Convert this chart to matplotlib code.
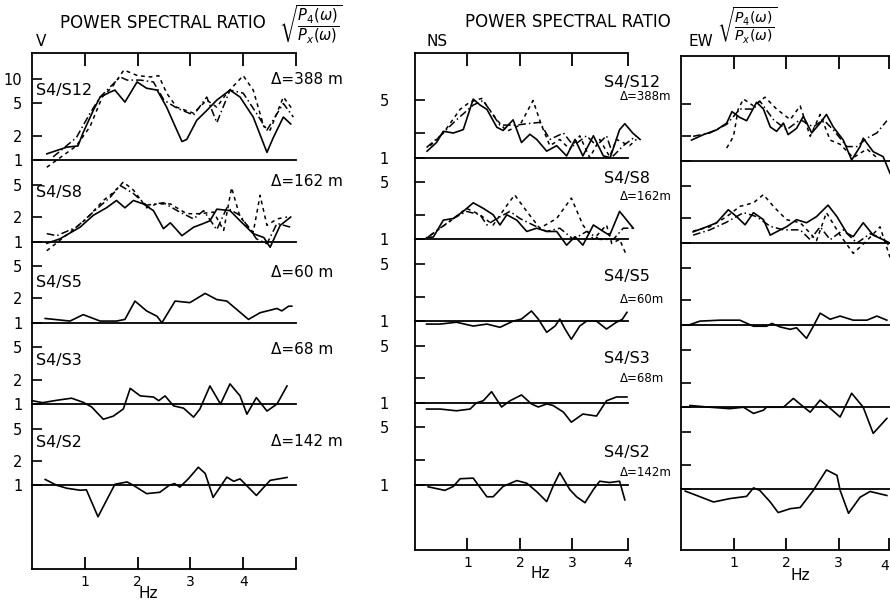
import numpy as np
import matplotlib.pyplot as plt

# power spectral ratio sqrt(P4/Px) (Hz, ratio)
# ---- V component ----
v12_solid_f = [0.28, 0.66, 0.87, 0.97, 1.16, 1.29, 1.48, 1.57, 1.76, 1.99, 2.17, 2.37, 2.55, 2.68, 2.84, 2.93, 3.12, 3.31, 3.5, 3.75, 3.94, 4.19, 4.45, 4.57, 4.76, 4.9]
v12_solid_r = [1.2, 1.45, 1.5, 2.2, 4.1, 6.0, 6.9, 7.3, 5.2, 9.2, 7.7, 7.3, 4.5, 2.9, 1.7, 1.8, 3.1, 4.1, 5.5, 7.3, 6.0, 3.4, 1.25, 1.9, 3.4, 2.8]
v12_dash_f = [0.28, 0.84, 1.1, 1.33, 1.52, 1.74, 2.0, 2.25, 2.4, 2.55, 2.74, 3.06, 3.31, 3.5, 3.69, 4.0, 4.19, 4.39, 4.51, 4.76, 4.95]
v12_dash_r = [0.82, 1.5, 2.6, 6.0, 8.0, 12.9, 11.0, 10.6, 11.0, 6.7, 4.5, 3.8, 5.5, 4.5, 6.7, 11.0, 7.3, 2.6, 2.35, 6.0, 4.1]
v12_dd_f = [0.4, 0.84, 1.1, 1.29, 1.67, 1.8, 2.05, 2.3, 2.5, 2.74, 3.06, 3.31, 3.5, 3.75, 4.0, 4.25, 4.45, 4.76, 4.95]
v12_dd_r = [1.1, 1.9, 3.8, 6.0, 10.6, 9.7, 9.7, 9.2, 5.5, 4.4, 3.6, 6.0, 2.9, 7.3, 6.7, 3.8, 2.35, 5.0, 3.4]

v8_solid_f = [0.28, 0.53, 0.91, 1.16, 1.41, 1.6, 1.76, 1.92, 2.11, 2.3, 2.49, 2.62, 2.84, 3.06, 3.25, 3.37, 3.5, 3.75, 3.94, 4.19, 4.39, 4.51, 4.7, 4.9]
v8_solid_r = [0.95, 1.08, 1.5, 2.1, 2.6, 3.2, 2.6, 3.2, 2.9, 2.4, 1.44, 1.7, 1.18, 1.5, 1.67, 1.8, 2.5, 2.4, 1.8, 1.25, 1.12, 0.85, 1.58, 2.0]
v8_dash_f = [0.28, 0.72, 1.03, 1.35, 1.54, 1.73, 1.92, 2.17, 2.36, 2.62, 2.93, 3.18, 3.44, 3.63, 3.78, 3.94, 4.19, 4.32, 4.45, 4.64, 4.83]
v8_dash_r = [0.77, 1.3, 1.9, 3.2, 4.0, 5.4, 4.3, 2.6, 2.9, 2.9, 2.2, 2.2, 2.3, 1.37, 4.6, 2.0, 1.3, 3.7, 1.58, 1.9, 2.0]
v8_dd_f = [0.28, 0.47, 0.84, 1.22, 1.48, 1.67, 1.92, 2.17, 2.49, 2.8, 3.06, 3.25, 3.5, 3.69, 3.94, 4.25, 4.45, 4.64, 4.9]
v8_dd_r = [1.25, 1.18, 1.5, 2.5, 3.5, 4.9, 3.9, 2.8, 3.0, 2.3, 1.9, 2.4, 1.4, 2.6, 2.1, 1.08, 0.94, 1.67, 1.5]

v5_f = [0.25, 0.72, 0.97, 1.29, 1.6, 1.76, 1.95, 2.17, 2.37, 2.46, 2.71, 2.99, 3.28, 3.5, 3.69, 4.1, 4.32, 4.64, 4.73, 4.86, 4.92]
v5_r = [1.13, 1.05, 1.26, 1.05, 1.05, 1.1, 1.85, 1.4, 1.2, 1.0, 1.85, 1.77, 2.3, 1.93, 1.85, 1.1, 1.33, 1.5, 1.4, 1.6, 1.6]

v3_f = [0.0, 0.2, 0.5, 0.75, 0.97, 1.13, 1.35, 1.54, 1.73, 1.86, 2.05, 2.3, 2.4, 2.52, 2.68, 2.87, 3.06, 3.18, 3.37, 3.57, 3.75, 3.94, 4.07, 4.25, 4.45, 4.64, 4.83]
v3_r = [1.1, 1.04, 1.12, 1.18, 1.05, 0.92, 0.65, 0.71, 0.87, 1.56, 1.26, 1.22, 1.1, 1.26, 0.95, 0.89, 0.69, 0.87, 1.67, 1.0, 1.77, 1.26, 0.75, 1.2, 0.82, 1.0, 1.67]

v2_f = [0.25, 0.47, 0.66, 0.91, 1.03, 1.25, 1.41, 1.57, 1.8, 1.92, 2.17, 2.42, 2.6, 2.7, 2.8, 2.96, 3.15, 3.28, 3.43, 3.69, 3.82, 3.94, 4.25, 4.51, 4.83]
v2_r = [1.18, 1.0, 0.92, 0.87, 0.88, 0.41, 0.65, 1.03, 1.1, 1.0, 0.79, 0.82, 1.0, 1.05, 0.95, 1.2, 1.67, 1.4, 0.71, 1.26, 1.12, 1.2, 0.75, 1.15, 1.25]

# ---- NS component ----
ns12_solid_f = [0.23, 0.41, 0.54, 0.73, 0.92, 1.11, 1.24, 1.37, 1.56, 1.68, 1.87, 2.03, 2.19, 2.32, 2.51, 2.7, 2.89, 3.05, 3.2, 3.4, 3.59, 3.72, 3.9, 4.0, 4.15, 4.29]
ns12_solid_r = [1.2, 1.53, 2.1, 2.0, 2.2, 5.2, 4.4, 3.9, 2.35, 2.15, 2.9, 1.53, 1.93, 1.67, 1.2, 1.4, 1.05, 1.67, 1.05, 1.85, 1.05, 1.0, 2.2, 2.6, 2.0, 1.67]
ns12_dash_f = [0.29, 0.54, 0.86, 1.05, 1.27, 1.56, 1.75, 2.0, 2.25, 2.41, 2.57, 2.76, 2.95, 3.14, 3.33, 3.52, 3.71, 3.84, 4.09, 4.22]
ns12_dash_r = [1.4, 2.0, 3.9, 4.8, 5.3, 2.9, 2.1, 2.5, 5.0, 2.5, 1.4, 1.67, 1.27, 1.85, 1.0, 1.67, 1.03, 1.67, 1.4, 1.67]
ns12_dd_f = [0.22, 0.48, 0.79, 1.11, 1.3, 1.49, 1.62, 1.94, 2.13, 2.38, 2.57, 2.83, 3.02, 3.27, 3.46, 3.65, 3.78, 3.97, 4.22]
ns12_dd_r = [1.33, 1.85, 2.9, 4.4, 5.0, 3.3, 2.5, 2.5, 2.6, 2.7, 1.67, 2.0, 1.4, 1.85, 1.4, 1.85, 1.05, 1.4, 1.85]

ns8_solid_f = [0.22, 0.35, 0.54, 0.73, 0.92, 1.11, 1.3, 1.49, 1.62, 1.75, 1.94, 2.13, 2.32, 2.51, 2.7, 2.89, 3.05, 3.2, 3.4, 3.59, 3.71, 3.9, 4.16]
ns8_solid_r = [1.05, 1.07, 1.72, 1.8, 2.2, 2.8, 2.4, 2.0, 1.5, 2.0, 1.72, 1.25, 1.37, 1.25, 1.25, 0.85, 1.08, 0.85, 1.5, 1.25, 1.12, 2.2, 1.37]
ns8_dash_f = [0.29, 0.67, 0.98, 1.24, 1.49, 1.75, 1.9, 2.13, 2.38, 2.7, 2.98, 3.2, 3.4, 3.65, 3.75, 3.9, 4.03]
ns8_dash_r = [1.12, 1.67, 2.4, 2.0, 1.5, 2.6, 3.5, 2.2, 1.37, 1.8, 3.2, 1.5, 1.0, 1.5, 0.89, 1.0, 0.64]
ns8_dd_f = [0.25, 0.48, 0.73, 0.98, 1.24, 1.37, 1.56, 1.81, 2.0, 2.25, 2.51, 2.76, 3.02, 3.27, 3.52, 3.78, 3.97, 4.16]
ns8_dd_r = [1.07, 1.37, 1.8, 2.2, 2.0, 1.5, 1.8, 2.2, 1.8, 1.5, 1.25, 1.37, 1.0, 1.25, 1.0, 1.0, 1.37, 1.37]

ns5_f = [0.22, 0.48, 0.79, 1.11, 1.37, 1.62, 1.87, 2.03, 2.22, 2.35, 2.51, 2.67, 2.76, 2.86, 2.98, 3.14, 3.27, 3.46, 3.65, 3.84, 3.95, 4.04]
ns5_r = [0.92, 0.92, 0.97, 0.87, 0.92, 0.84, 1.0, 1.06, 1.33, 1.06, 0.73, 0.87, 1.06, 0.8, 0.6, 0.87, 1.0, 1.0, 0.8, 0.97, 1.05, 1.28]

ns3_f = [0.22, 0.48, 0.79, 1.05, 1.17, 1.3, 1.46, 1.65, 1.81, 2.03, 2.22, 2.35, 2.51, 2.63, 2.83, 2.98, 3.2, 3.46, 3.65, 3.84, 4.04]
ns3_r = [0.84, 0.84, 0.8, 0.84, 1.0, 1.06, 1.37, 0.89, 1.06, 1.25, 0.97, 0.89, 0.97, 0.93, 0.77, 0.58, 0.73, 0.69, 1.06, 1.18, 1.18]

ns2_f = [0.25, 0.57, 0.73, 0.86, 1.11, 1.37, 1.49, 1.68, 1.94, 2.13, 2.32, 2.51, 2.63, 2.76, 2.95, 3.08, 3.24, 3.4, 3.52, 3.71, 3.9, 4.0]
ns2_r = [0.94, 0.85, 0.95, 1.18, 1.2, 0.71, 0.71, 0.95, 1.12, 1.04, 0.82, 0.62, 0.95, 1.4, 0.87, 0.71, 0.6, 0.87, 1.1, 1.06, 1.1, 0.65]

# ---- EW component ----
ew12_solid_f = [0.2, 0.43, 0.68, 0.87, 0.97, 1.12, 1.25, 1.44, 1.57, 1.7, 1.82, 1.95, 2.04, 2.2, 2.33, 2.49, 2.65, 2.77, 2.9, 3.09, 3.25, 3.41, 3.47, 3.66, 3.85, 3.98]
ew12_solid_r = [1.8, 2.1, 2.4, 2.9, 4.0, 3.4, 3.1, 5.2, 4.3, 2.6, 2.3, 2.9, 2.1, 2.5, 3.5, 2.2, 2.9, 3.7, 2.6, 1.8, 1.03, 1.5, 1.9, 1.3, 1.13, 0.71]
ew12_dash_f = [0.87, 1.0, 1.09, 1.19, 1.38, 1.6, 1.82, 2.08, 2.27, 2.46, 2.65, 2.84, 3.03, 3.28, 3.54, 3.73]
ew12_dash_r = [1.44, 2.0, 4.3, 5.7, 4.7, 6.0, 4.3, 3.2, 4.7, 2.0, 3.7, 1.8, 1.6, 1.1, 1.4, 1.1]
ew12_dd_f = [0.23, 0.55, 0.87, 1.12, 1.38, 1.5, 1.76, 2.01, 2.27, 2.52, 2.71, 2.9, 3.16, 3.35, 3.54, 3.73, 3.92]
ew12_dd_r = [2.0, 2.2, 2.8, 4.3, 4.3, 5.4, 3.2, 2.4, 3.2, 2.6, 3.2, 2.4, 1.5, 1.5, 1.9, 2.2, 3.1]

ew8_solid_f = [0.23, 0.49, 0.68, 0.9, 1.06, 1.22, 1.38, 1.57, 1.7, 1.89, 2.01, 2.2, 2.39, 2.58, 2.8, 2.97, 3.16, 3.28, 3.47, 3.66, 3.85, 3.98]
ew8_solid_r = [1.37, 1.58, 1.77, 2.55, 2.1, 1.67, 2.35, 1.93, 1.25, 1.45, 1.58, 1.93, 1.77, 2.1, 2.9, 2.1, 1.32, 1.2, 1.77, 1.25, 1.1, 1.0]
ew8_dash_f = [0.23, 0.55, 0.87, 1.12, 1.38, 1.57, 1.76, 2.01, 2.27, 2.46, 2.58, 2.77, 3.03, 3.28, 3.54, 3.79, 3.98]
ew8_dash_r = [1.4, 1.58, 2.1, 2.8, 3.1, 3.9, 2.8, 1.93, 1.77, 1.32, 1.07, 2.35, 1.25, 0.75, 1.07, 1.58, 0.67]
ew8_dd_f = [0.23, 0.55, 0.87, 1.19, 1.44, 1.7, 1.95, 2.27, 2.46, 2.65, 2.84, 3.09, 3.35, 3.6, 3.85, 3.98]
ew8_dd_r = [1.25, 1.45, 1.8, 2.35, 2.1, 1.6, 1.45, 1.45, 1.1, 1.58, 1.1, 1.45, 1.0, 1.3, 1.15, 0.9]

ew5_f = [0.14, 0.36, 0.74, 1.12, 1.38, 1.63, 1.73, 1.89, 2.08, 2.2, 2.39, 2.52, 2.65, 2.84, 3.03, 3.28, 3.54, 3.73, 3.92]
ew5_r = [1.0, 1.12, 1.15, 1.15, 0.97, 0.97, 1.05, 0.95, 0.89, 0.93, 0.69, 0.97, 1.4, 1.18, 1.29, 1.15, 1.15, 1.29, 1.15]

ew3_f = [0.17, 0.55, 0.93, 1.19, 1.38, 1.57, 1.63, 1.95, 2.14, 2.3, 2.46, 2.65, 2.84, 3.03, 3.25, 3.47, 3.66, 3.92]
ew3_r = [1.05, 1.0, 0.96, 1.0, 0.84, 0.92, 1.0, 1.0, 1.28, 1.05, 0.87, 1.22, 0.97, 0.76, 1.48, 1.0, 0.48, 0.73]

ew2_f = [0.08, 0.3, 0.62, 0.93, 1.25, 1.38, 1.5, 1.7, 1.85, 2.08, 2.27, 2.52, 2.77, 2.97, 3.03, 3.19, 3.41, 3.6, 3.92]
ew2_r = [0.95, 0.84, 0.7, 0.77, 0.82, 1.04, 0.97, 0.7, 0.52, 0.58, 0.6, 0.97, 1.72, 1.48, 0.97, 0.51, 0.8, 0.94, 0.84]

pairs = ['S4/S12', 'S4/S8', 'S4/S5', 'S4/S3', 'S4/S2']
dists = ['388', '162', '60', '68', '142']
offsets = [4, 3, 2, 1, 0]   # each pair shifted up by one decade

W, H = 890, 602
fig = plt.figure(figsize=(W / 100, H / 100), dpi=100)
plt.rcParams['font.family'] = 'DejaVu Sans'

SOLID = dict(color='black', lw=1.2, ls='-')
DASH = dict(color='black', lw=1.1, ls=(0, (2.5, 2.5)))
DDASH = dict(color='black', lw=1.1, ls=(0, (5, 2, 1, 2)))


def make_axes(x0, x1, ytop, ybot, xmax, ylo, yhi):
    ax = fig.add_axes([x0 / W, 1 - ybot / H, (x1 - x0) / W, (ybot - ytop) / H])
    ax.set_xlim(0, xmax)
    ax.set_ylim(ylo, yhi)
    ax.spines['right'].set_visible(False)
    for s in ['left', 'top', 'bottom']:
        ax.spines[s].set_linewidth(1.3)
    ax.tick_params(axis='x', direction='in', length=9, width=1.3, top=True,
                   labelsize=10, pad=4)
    ax.tick_params(axis='y', direction='in', length=7, width=1.2)
    ax.patch.set_alpha(0)
    return ax


def curve(ax, f, r, k, style):
    ax.plot(f, np.log10(r) + k, clip_on=False, **style)


def baselines(ax, xend):
    for k in offsets:
        ax.plot([0, xend], [k, k], color='black', lw=1.3, clip_on=False)


def tick_set(labels_for):
    pos, lab = [], []
    for k in offsets:
        for v in (1, 2, 5):
            pos.append(k + np.log10(v))
            lab.append(labels_for(k, v))
    return pos, lab


# ---------------- V ----------------
axv = make_axes(32, 296, 53, 569, 5.0, -1.03, 5.32)
baselines(axv, 5.0)
curve(axv, v12_dash_f, v12_dash_r, 4, DASH)
curve(axv, v12_dd_f, v12_dd_r, 4, DDASH)
curve(axv, v12_solid_f, v12_solid_r, 4, SOLID)
curve(axv, v8_dash_f, v8_dash_r, 3, DASH)
curve(axv, v8_dd_f, v8_dd_r, 3, DDASH)
curve(axv, v8_solid_f, v8_solid_r, 3, SOLID)
curve(axv, v5_f, v5_r, 2, SOLID)
curve(axv, v3_f, v3_r, 1, SOLID)
curve(axv, v2_f, v2_r, 0, SOLID)
pos, lab = tick_set(lambda k, v: str(v))
pos.append(5.0)
lab.append('10')
axv.set_yticks(pos)
axv.set_yticklabels(lab, fontsize=10.5)
axv.tick_params(axis='y', pad=7)
axv.set_xticks([1, 2, 3, 4, 5])
axv.set_xticklabels(['1', '2', '3', '4', ''])

# ---------------- NS ----------------
axn = make_axes(415, 628, 53, 550, 4.06, -0.80, 5.28)
baselines(axn, 4.06)
curve(axn, ns12_dash_f, ns12_dash_r, 4, DASH)
curve(axn, ns12_dd_f, ns12_dd_r, 4, DDASH)
curve(axn, ns12_solid_f, ns12_solid_r, 4, SOLID)
curve(axn, ns8_dash_f, ns8_dash_r, 3, DASH)
curve(axn, ns8_dd_f, ns8_dd_r, 3, DDASH)
curve(axn, ns8_solid_f, ns8_solid_r, 3, SOLID)
curve(axn, ns5_f, ns5_r, 2, SOLID)
curve(axn, ns3_f, ns3_r, 1, SOLID)
curve(axn, ns2_f, ns2_r, 0, SOLID)
pos, lab = tick_set(lambda k, v: '' if v == 2 else str(v))
axn.set_yticks(pos)
axn.set_yticklabels(lab, fontsize=10.5)
axn.tick_params(axis='y', pad=19)
axn.set_xticks([1, 2, 3, 4.06])
axn.set_xticklabels(['1', '2', '3', '4'])

# ---------------- EW ----------------
axe = make_axes(681, 890, 56, 550, 3.98, -0.74, 5.28)
baselines(axe, 3.98)
curve(axe, ew12_dash_f, ew12_dash_r, 4, DASH)
curve(axe, ew12_dd_f, ew12_dd_r, 4, DDASH)
curve(axe, ew12_solid_f, ew12_solid_r, 4, SOLID)
curve(axe, ew8_dash_f, ew8_dash_r, 3, DASH)
curve(axe, ew8_dd_f, ew8_dd_r, 3, DDASH)
curve(axe, ew8_solid_f, ew8_solid_r, 3, SOLID)
curve(axe, ew5_f, ew5_r, 2, SOLID)
curve(axe, ew3_f, ew3_r, 1, SOLID)
curve(axe, ew2_f, ew2_r, 0, SOLID)
pos, lab = tick_set(lambda k, v: '')
axe.set_yticks(pos)
axe.set_yticklabels(lab)
axe.set_xticks([1, 2, 3, 3.97])
axe.set_xticklabels(['1', '2', '3', ''])


def txt(x, y, s, size, ha='left', **kw):
    fig.text(x / W, 1 - y / H, s, fontsize=size, ha=ha, va='center', **kw)


ratio = r'$\sqrt{\dfrac{P_4(\omega)}{P_x(\omega)}}$'
# headings
txt(60, 23, 'POWER SPECTRAL RATIO', 12)
txt(36, 42, 'V', 11)
txt(279, 24, ratio, 10.5)
txt(465, 22, 'POWER SPECTRAL RATIO', 12)
txt(427, 42, 'NS', 11)
txt(688, 42, 'EW', 11)
txt(717, 26, ratio, 10)
txt(148, 594, 'Hz', 11, ha='center')
txt(540, 574, 'Hz', 11, ha='center')
txt(800, 576, 'Hz', 11, ha='center')
txt(889, 566, '4', 10, ha='right')

# pair labels
v_pair_y = [90, 192, 282, 360, 442]
v_dist_y = [80, 182, 272, 350, 442]
ns_pair_y = [82, 178, 277, 358, 453]
ns_dist_y = [97, 197, 300, 379, 473]
for p, d, y1, y2 in zip(pairs, dists, v_pair_y, v_dist_y):
    txt(36, y1, p, 11.5)
    txt(271, y2, '\u0394=' + d + ' m', 11)
for p, d, y1, y2 in zip(pairs, dists, ns_pair_y, ns_dist_y):
    txt(604, y1, p, 11.5)
    txt(620, y2, '\u0394=' + d + 'm', 8.5)

fig.savefig('out.png', dpi=100)
